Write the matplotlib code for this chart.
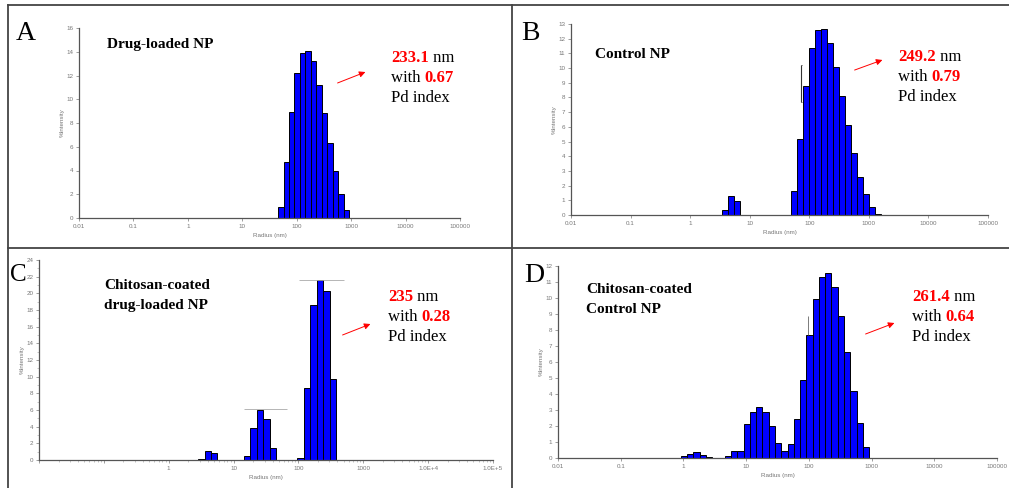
import matplotlib
matplotlib.use("Agg")
import matplotlib.pyplot as plt
from matplotlib.lines import Line2D
from matplotlib.patches import FancyArrowPatch
from matplotlib.ticker import FixedLocator, LogLocator, NullFormatter

W, H = 1009, 488

# ---- data (radius in nm, % intensity) ----
a_radius = [51.3, 64.6, 81.3, 102, 129, 162, 204, 257, 324, 407, 513, 646, 813]
a_intensity = [0.93, 4.7, 8.9, 12.2, 13.9, 14.1, 13.2, 11.2, 8.8, 6.3, 4.0, 2.0, 0.65]

b_radius = [3.9, 4.9, 6.2, 56.2, 70.8, 89.1, 112, 141, 178, 224, 282, 355,
            447, 562, 708, 891, 1122, 1413]
b_intensity = [0.34, 1.3, 0.98, 1.66, 5.2, 8.75, 11.4, 12.6, 12.66, 11.7, 10.07,
               8.1, 6.1, 4.25, 2.6, 1.4, 0.55, 0.07]

c_radius = [3.2, 4.0, 5.0, 16.2, 20.4, 25.7, 32.4, 40.7, 107, 135, 170, 214, 269, 339]
c_intensity = [0.08, 1.1, 0.8, 0.5, 3.8, 6.0, 4.9, 1.5, 0.3, 8.6, 18.6, 21.6, 20.3, 9.7]

d_radius = [1.02, 1.29, 1.62, 2.04, 2.57, 5.13, 6.46, 8.13, 10.2, 12.9, 16.2, 20.4,
            25.7, 32.4, 40.7, 51.3, 64.6, 81.3, 102, 129, 162, 204, 257, 324, 407,
            513, 646, 813]
d_intensity = [0.1, 0.27, 0.35, 0.2, 0.08, 0.1, 0.44, 0.44, 2.15, 2.9, 3.2, 2.9,
               2.0, 0.96, 0.44, 0.85, 2.46, 4.9, 7.7, 9.96, 11.3, 11.56, 10.7, 8.9,
               6.6, 4.2, 2.2, 0.7]

# peak marker lines in C, small error marks in B and D
c_peak_level = [21.6, 6.1]
c_peak_from = [102, 14.4]
c_peak_to = [513, 66]
b_mark = [73, 7.7, 10.2]
d_mark = [98, 7.7, 8.9]

x_ticks = [0.01, 0.1, 1, 10, 100, 1000, 1e4, 1e5]
x_labels_plain = ["0.01", "0.1", "1", "10", "100", "1000", "10000", "100000"]
x_labels_c = ["", "", "1", "10", "100", "1000", "1.0E+4", "1.0E+5"]

letters = ["A", "B", "C", "D"]
titles = [["Drug-loaded NP"], ["Control NP"], ["Chitosan-coated", "drug-loaded NP"],
          ["Chitosan-coated", "Control NP"]]
sizes = ["233.1", "249.2", "235", "261.4"]
pdis = ["0.67", "0.79", "0.28", "0.64"]

fig = plt.figure(figsize=(W / 100, H / 100), dpi=100)
renderer = fig.canvas.get_renderer()


def rect(x0, y0, x1, y1):
    return [x0 / W, 1 - y1 / H, (x1 - x0) / W, (y1 - y0) / H]


def fp(x, y):
    return x / W, 1 - y / H


def panel(r, radius, intensity, ymax, ystep, xlabels, minor=False):
    ax = fig.add_axes(r)
    left = [v / 10 ** 0.05 for v in radius]
    width = [v * 10 ** 0.05 - v / 10 ** 0.05 for v in radius]
    ax.bar(left, intensity, width=width, align="edge", color="#0000ff",
           edgecolor="black", linewidth=0.7)
    ax.set_xscale("log")
    ax.set_xlim(0.01, 1e5)
    ax.set_ylim(0, ymax)
    ax.xaxis.set_major_locator(FixedLocator(x_ticks))
    ax.set_xticklabels(xlabels)
    ax.set_yticks(range(0, ymax + 1, ystep))
    if minor:
        ax.xaxis.set_minor_locator(LogLocator(base=10, subs=range(2, 10)))
        ax.xaxis.set_minor_formatter(NullFormatter())
        ax.set_yticks(range(1, ymax, 2), minor=True)
    else:
        ax.xaxis.set_minor_locator(FixedLocator([]))
    for s in ["top", "right"]:
        ax.spines[s].set_visible(False)
    for s in ["left", "bottom"]:
        ax.spines[s].set_color("#555555")
        ax.spines[s].set_linewidth(0.9)
    ax.tick_params(labelsize=4.5, labelcolor="#777777", color="#777777",
                   length=2, width=0.5, pad=2)
    ax.tick_params(which="minor", length=1.2, width=0.4, color="#999999")
    for t in ax.get_xticklabels() + ax.get_yticklabels():
        t.set_family("Liberation Sans")
    ax.set_xlabel("Radius (nm)", fontsize=4.5, color="#777777",
                  family="Liberation Sans", labelpad=3)
    ax.set_ylabel("%Intensity", fontsize=4.5, color="#777777",
                  family="Liberation Sans", labelpad=1)
    return ax


axA = panel(rect(79, 28, 460, 218), a_radius, a_intensity, 16, 2, x_labels_plain)
axB = panel(rect(571, 24, 988, 215), b_radius, b_intensity, 13, 1, x_labels_plain)
axC = panel(rect(39, 260, 493, 460), c_radius, c_intensity, 24, 2, x_labels_c, minor=True)
axD = panel(rect(558, 266, 997, 458), d_radius, d_intensity, 12, 1, x_labels_plain)

axC.hlines(c_peak_level, c_peak_from, c_peak_to, color="#aaaaaa", lw=0.6)
axB.vlines(b_mark[0], b_mark[1], b_mark[2], color="#333333", lw=0.8)
axB.hlines([b_mark[1], b_mark[2]], b_mark[0], b_mark[0] * 1.04, color="#333333", lw=0.6)
axD.vlines(d_mark[0], d_mark[1], d_mark[2], color="#666666", lw=0.6)

# panel frame lines
frame = "#444444"
for (x0, y0, x1, y1) in [(8, 5, W, 5), (8, 5, 8, H), (512, 5, 512, H), (8, 248, W, 248)]:
    fig.add_artist(Line2D([x0 / W, x1 / W], [1 - y0 / H, 1 - y1 / H],
                          color=frame, lw=1.3, transform=fig.transFigure))

serif = "Liberation Serif"
letter_pos = [(16, 40), (521, 40), (10, 281), (524, 282)]
letter_size = [20, 20, 18, 20]
title_pos = [(107, 48), (595, 58), (104, 289), (586, 293)]
note_pos = [(391, 61.5), (898, 61), (388, 301), (912, 301)]
arrows = [((335, 84), (368, 71)), ((852, 71), (885, 59)),
          ((340, 336), (373, 323)), ((863, 335), (897, 322))]


def rich_line(x, y, parts):
    for s, color, weight in parts:
        t = fig.text(*fp(x, y), s, color=color, fontweight=weight, family=serif,
                     fontsize=12, va="baseline", ha="left")
        x += t.get_window_extent(renderer).width


for i in range(4):
    fig.text(*fp(*letter_pos[i]), letters[i], family=serif, fontsize=letter_size[i],
             va="baseline", ha="left")
    tx, ty = title_pos[i]
    for k, line in enumerate(titles[i]):
        fig.text(*fp(tx, ty + 20 * k), line, family=serif, fontsize=11,
                 fontweight="bold", va="baseline", ha="left")
    nx, ny = note_pos[i]
    rich_line(nx, ny, [(sizes[i], "red", "bold"), ("\u00a0nm", "black", "normal")])
    rich_line(nx, ny + 20, [("with\u00a0", "black", "normal"), (pdis[i], "red", "bold")])
    rich_line(nx, ny + 40, [("Pd index", "black", "normal")])
    (ax0, ay0), (ax1, ay1) = arrows[i]
    fig.add_artist(FancyArrowPatch(fp(ax0, ay0), fp(ax1, ay1), transform=fig.transFigure,
                                   arrowstyle="-|>", mutation_scale=9, color="red", lw=0.7))

fig.savefig("out.png", dpi=100)
